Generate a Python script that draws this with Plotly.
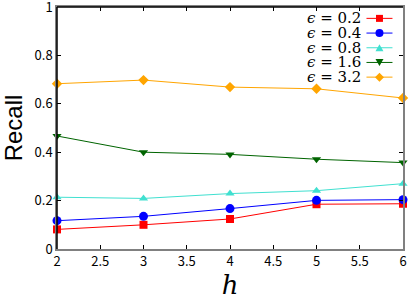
import plotly.graph_objects as go

h = [2, 3, 4, 5, 6]
eps_labels = ["0.2", "0.4", "0.8", "1.6", "3.2"]
recall_02 = [0.081, 0.100, 0.124, 0.185, 0.187]
recall_04 = [0.117, 0.135, 0.167, 0.201, 0.204]
recall_08 = [0.214, 0.209, 0.229, 0.241, 0.270]
recall_16 = [0.467, 0.400, 0.391, 0.371, 0.357]
recall_32 = [0.683, 0.698, 0.669, 0.662, 0.624]
x_ticks = [2, 2.5, 3, 3.5, 4, 4.5, 5, 5.5, 6]
x_ticklabels = ["2", "2.5", "3", "3.5", "4", "4.5", "5", "5.5", "6"]
y_ticks = [0, 0.2, 0.4, 0.6, 0.8, 1]
y_ticklabels = ["0", "0.2", "0.4", "0.6", "0.8", "1"]

series = [recall_02, recall_04, recall_08, recall_16, recall_32]
colors = ["#ff0000", "#0000ff", "#40e0d0", "#006400", "#ffa500"]
symbols = ["square", "circle", "triangle-up", "triangle-down", "diamond"]
sizes = [8, 9, 8, 8, 8]

fig = go.Figure()
for lab, ys, c, s, sz in zip(eps_labels, series, colors, symbols, sizes):
    fig.add_trace(go.Scatter(
        x=h, y=ys, mode="lines+markers", name=f"<i>ϵ</i> = {lab}",
        line=dict(color=c, width=1),
        marker=dict(symbol=s, size=sz, color=c, line=dict(width=0)),
        cliponaxis=False, showlegend=False,
    ))

# custom legend (text right-aligned, sample on the right, like gnuplot)
leg_text_x = 0.883
leg_sample_x = 0.932
leg_y0 = 0.953
leg_dy = 0.0607
marker_paths = {
    "triangle-up": "M -4,-3.5 L 4,-3.5 L 0,3.5 Z",
    "triangle-down": "M -4,3.5 L 4,3.5 L 0,-3.5 Z",
    "diamond": "M 0,-4.5 L 4.5,0 L 0,4.5 L -4.5,0 Z",
}
annotations = []
shapes = []
for i, (lab, c, s) in enumerate(zip(eps_labels, colors, symbols)):
    yy = leg_y0 - i * leg_dy
    annotations.append(dict(
        xref="paper", yref="paper", x=leg_text_x, y=yy, xanchor="right", yanchor="middle",
        text=f"<i>ϵ</i> = {lab}", showarrow=False, height=14,
        font=dict(family="DejaVu Serif", size=15, color="black")))
    shapes.append(dict(type="line", xref="paper", yref="paper", xsizemode="pixel", xanchor=leg_sample_x,
                       x0=-13, x1=13, y0=yy, y1=yy, line=dict(color=c, width=1)))
    common = dict(xref="paper", yref="paper", xsizemode="pixel", ysizemode="pixel",
                  xanchor=leg_sample_x, yanchor=yy, fillcolor=c, line=dict(width=0))
    if s == "square":
        shapes.append(dict(type="rect", x0=-3.5, x1=3.5, y0=-3.5, y1=3.5, **common))
    elif s == "circle":
        shapes.append(dict(type="circle", x0=-4, x1=4, y0=-4, y1=4, **common))
    else:
        shapes.append(dict(type="path", path=marker_paths[s], **common))

shapes += [
    dict(type="line", xref="paper", yref="paper", x0=0, x1=0, y0=0, y1=1,
         line=dict(color="black", width=1.5)),
    dict(type="line", xref="paper", yref="paper", x0=0, x1=1, y0=1, y1=1,
         line=dict(color="black", width=1.5)),
]

tickfont = dict(family="Noto Sans CJK JP", size=13, color="black")
fig.update_layout(
    width=409, height=302,
    margin=dict(l=57, r=6, t=7, b=53, autoexpand=False),
    paper_bgcolor="white", plot_bgcolor="white",
    showlegend=False,
    xaxis=dict(range=[2, 6], tickmode="array", tickvals=x_ticks, ticktext=x_ticklabels,
               showgrid=False, zeroline=False, automargin=False, ticklabeloverflow="allow",
               ticks="inside", ticklen=4, tickcolor="black", mirror="allticks",
               showline=True, linecolor="#808080", linewidth=1.5,
               tickfont=tickfont,
               title=dict(text="<i>h</i>", font=dict(family="DejaVu Serif", size=26, color="black"), standoff=2)),
    yaxis=dict(range=[0, 1], tickmode="array", tickvals=y_ticks, ticktext=y_ticklabels,
               showgrid=False, zeroline=False, automargin=False, ticklabeloverflow="allow",
               ticks="inside", ticklen=4, tickcolor="black", mirror="allticks",
               showline=True, linecolor="#808080", linewidth=1.5,
               tickfont=tickfont,
               title=dict(text="Recall", font=dict(family="Liberation Sans", size=24, color="black"), standoff=6)),
    shapes=shapes,
    annotations=annotations,
)

fig.write_html("out.html", config={"displayModeBar": False},
               post_script="document.body.style.margin='0';document.body.style.overflow='hidden';")
